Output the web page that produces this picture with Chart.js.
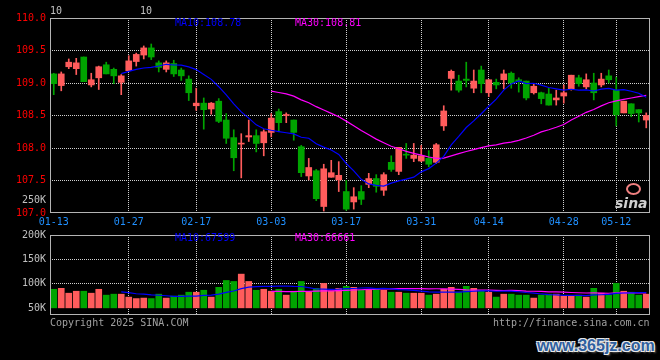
<!DOCTYPE html>
<html>
<head>
<meta charset="utf-8">
<script src="https://cdn.jsdelivr.net/npm/chart.js@4.4.1/dist/chart.umd.min.js"></script>
<style>
  html, body { margin: 0; padding: 0; background: #000; }
  #wrap { position: relative; width: 660px; height: 360px; overflow: hidden; background: #000;
          font-family: 'DejaVu Sans Mono', 'Liberation Mono', monospace; font-size: 10px; line-height: 10px; }
  #wrap canvas { position: absolute; left: 0; }
  .t { position: absolute; white-space: pre; }
</style>
</head>
<body>
<div id="wrap">
  <canvas id="kline" width="660" height="232" style="top:0"></canvas>
  <canvas id="vol" width="660" height="100" style="top:225px"></canvas>

  <div class="t" style="left:50px;top:6px;color:#c0c0c0">10</div>
  <div class="t" style="left:140px;top:6px;color:#c0c0c0">10</div>
  <div class="t" style="left:175px;top:18px;color:#0000ff">MA10:108.78</div>
  <div class="t" style="left:295px;top:18px;color:#ff00ff">MA30:108.81</div>
  <div class="t" style="left:22px;top:195px;color:#c0c0c0">250K</div>
  <div class="t" style="left:175px;top:233px;color:#0000ff">MA10:67599</div>
  <div class="t" style="left:295px;top:233px;color:#ff00ff">MA30:66661</div>
  <div class="t" style="left:50px;top:318px;color:#a0a0a0">Copyright 2025 SINA.COM</div>
  <div class="t" style="left:493px;top:318px;color:#a0a0a0">http://finance.sina.com.cn</div>

  <div style="position:absolute;left:626px;top:183px;width:11px;height:8px;border:2px solid #f08080;border-radius:50%"></div>
  <div class="t" style="left:615px;top:196px;font:italic bold 14px 'DejaVu Sans',sans-serif;line-height:14px;color:#d0d0d0">sina</div>
  <div class="t" style="left:537px;top:337px;font:bold 16px 'Liberation Sans',Arial,sans-serif;line-height:18px;color:#2f5f9f;
       text-shadow:1px 1px 0 #e8e8e8,-1px -1px 0 #e8e8e8,1px -1px 0 #e8e8e8,-1px 1px 0 #e8e8e8,2px 2px 2px #555">www.365jz.com</div>
</div>

<script>
// trading days shown on the chart
const dates = [
  '01-13','01-14','01-15','01-16','01-17','01-20','01-21','01-22','01-23','01-24',
  '01-27','02-05','02-06','02-07','02-10','02-11','02-12','02-13','02-14','02-17',
  '02-18','02-19','02-20','02-21','02-24','02-25','02-26','02-27','02-28','03-03',
  '03-04','03-05','03-06','03-07','03-10','03-11','03-12','03-13','03-14','03-17',
  '03-18','03-19','03-20','03-21','03-24','03-25','03-26','03-27','03-28','03-31',
  '04-01','04-02','04-03','04-07','04-08','04-09','04-10','04-11','04-14','04-15',
  '04-16','04-17','04-18','04-21','04-22','04-23','04-24','04-25','04-28','04-29',
  '04-30','05-06','05-07','05-08','05-09','05-12','05-13','05-14','05-15','05-16'
];
const shownDates = ['01-13','01-27','02-17','03-03','03-17','03-31','04-14','04-28','05-12'];

const open = [
  109.14,108.96,109.25,109.22,109.40,108.97,109.08,109.28,109.21,109.01,
  109.19,109.33,109.43,109.54,109.31,109.21,109.30,109.20,109.06,108.65,
  108.69,108.60,108.72,108.43,108.16,108.06,108.17,108.19,108.08,108.24,
  108.56,108.50,108.43,108.02,107.57,107.65,107.10,107.55,107.51,107.33,
  107.17,107.33,107.44,107.53,107.35,107.78,107.64,107.90,107.84,107.80,
  107.84,107.78,108.34,109.07,109.03,109.06,108.92,109.20,108.85,109.01,
  109.05,109.15,109.05,109.03,108.85,108.85,108.83,108.74,108.80,108.91,
  109.08,108.94,109.00,108.97,109.11,108.89,108.54,108.68,108.59,108.43
];
const high = [
  109.15,109.17,109.37,109.38,109.40,109.15,109.26,109.32,109.23,109.13,
  109.42,109.46,109.57,109.60,109.34,109.34,109.35,109.23,109.11,108.92,
  108.77,108.70,108.76,108.53,108.28,108.22,108.43,108.28,108.28,108.53,
  108.60,108.54,108.43,108.04,107.84,107.67,107.75,107.81,107.79,107.50,
  107.39,107.42,107.61,107.59,107.62,107.88,108.01,108.07,108.07,108.04,
  107.96,108.07,108.65,109.20,109.12,109.32,109.20,109.26,109.05,109.06,
  109.20,109.17,109.08,109.03,108.99,108.86,108.92,108.89,108.97,109.12,
  109.12,109.14,109.15,109.15,109.20,109.09,108.72,108.68,108.59,108.54
];
const low = [
  108.82,108.88,109.22,109.13,109.02,108.94,108.90,109.14,108.99,108.82,
  109.19,109.26,109.37,109.36,109.17,109.17,109.10,109.04,108.73,108.58,
  108.29,108.52,108.39,108.07,107.65,107.54,108.10,107.94,107.88,108.17,
  108.25,108.39,108.12,107.56,107.51,107.19,107.03,107.55,107.33,107.04,
  107.06,107.13,107.39,107.32,107.27,107.64,107.59,107.84,107.79,107.79,
  107.71,107.76,108.27,108.89,108.86,108.94,108.85,108.85,108.79,108.91,
  108.91,108.92,108.86,108.74,108.83,108.68,108.66,108.66,108.69,108.89,
  108.95,108.91,108.74,108.94,109.00,108.34,108.54,108.48,108.40,108.31
];
const close = [
  108.99,109.14,109.32,109.31,109.02,109.05,109.25,109.14,109.11,109.11,
  109.34,109.44,109.54,109.40,109.24,109.31,109.14,109.11,108.85,108.69,
  108.59,108.69,108.41,108.15,107.85,108.07,108.19,108.07,108.25,108.46,
  108.39,108.51,108.24,107.62,107.70,107.22,107.68,107.62,107.58,107.06,
  107.25,107.21,107.53,107.41,107.59,107.67,108.01,107.89,107.89,107.88,
  107.75,108.05,108.57,109.18,108.89,109.04,109.03,108.99,109.05,108.97,
  109.14,109.00,109.02,108.77,108.95,108.76,108.66,108.77,108.85,109.12,
  108.99,109.05,108.85,109.06,109.05,108.51,108.72,108.53,108.54,108.50
];
const volume = [
  89000,91000,81000,85000,85000,81000,89000,77000,79000,79000,
  73000,70000,71000,70000,79000,71000,75000,77000,83000,83000,
  87000,73000,93000,107000,105000,120000,105000,87000,89000,85000,
  89000,77000,85000,105000,83000,91000,101000,85000,91000,95000,
  93000,87000,87000,91000,87000,83000,83000,81000,81000,81000,
  77000,79000,89000,93000,83000,95000,91000,87000,83000,73000,
  79000,79000,77000,77000,71000,77000,79000,79000,75000,75000,
  77000,73000,91000,81000,77000,101000,85000,83000,77000,79000
];

const priceMin = 107, priceMax = 110, priceStep = 0.5;
const volTicks = [50000, 100000, 150000, 200000];
const volAxisMin = 36400;

const upColor = '#ff5c5c';
const downColor = '#00a400';
const gridColor = '#d0d0d0';
const fontFamily = "'DejaVu Sans Mono', 'Liberation Mono', monospace";

// moving averages, taken from the closes / volumes like the original chart does
function movingAvg(arr, n) {
  return arr.map((v, i) => {
    if (i < n - 1) return null;
    let s = 0;
    for (let k = i - n + 1; k <= i; k++) s += arr[k];
    return s / n;
  });
}

const candleColors = close.map((c, i) => c >= open[i] ? upColor : downColor);
const shownIdx = shownDates.map(d => dates.indexOf(d));

// gray box round the plot area
const framePlugin = {
  id: 'frame',
  afterDraw(chart) {
    const a = chart.chartArea;
    const ctx = chart.ctx;
    ctx.save();
    ctx.strokeStyle = '#b4b4b4';
    ctx.lineWidth = 1;
    ctx.strokeRect(Math.round(a.left) + 0.5, Math.round(a.top) + 0.5,
                   Math.round(a.right - a.left) - 1, Math.round(a.bottom - a.top) - 1);
    ctx.restore();
  }
};

function xAxis(showLabels, height) {
  return {
    offset: true,
    grid: {
      offset: false,
      drawTicks: false,
      lineWidth: 1,
      color: ctx => ctx.index === 0 ? 'transparent' : gridColor
    },
    border: { display: false, dash: [1, 1] },
    afterBuildTicks: scale => { scale.ticks = shownIdx.map(i => ({ value: i })); },
    ticks: {
      display: showLabels,
      autoSkip: false,
      maxRotation: 0,
      padding: 3,
      color: '#2090ff',
      font: { family: fontFamily, size: 10 },
      callback: function(v) { return this.getLabelForValue(v); }
    },
    afterFit: s => { s.height = height; }
  };
}

const baseOptions = {
  responsive: false,
  animation: false,
  events: [],
  plugins: { legend: { display: false }, tooltip: { enabled: false } }
};

new Chart(document.getElementById('kline'), {
  type: 'bar',
  data: {
    labels: dates,
    datasets: [
      {
        type: 'line', data: movingAvg(close, 10), borderColor: '#0000ff', borderWidth: 1.2,
        pointRadius: 0, fill: false, order: 0
      },
      {
        type: 'line', data: movingAvg(close, 30), borderColor: '#ff00ff', borderWidth: 1.2,
        pointRadius: 0, fill: false, order: 0
      },
      {
        data: open.map((o, i) => [o, close[i]]),
        backgroundColor: candleColors, barThickness: 6, minBarLength: 1,
        grouped: false, order: 1
      },
      {
        data: low.map((l, i) => [l, high[i]]),
        backgroundColor: candleColors, barThickness: 1,
        grouped: false, order: 2
      }
    ]
  },
  options: {
    ...baseOptions,
    layout: { padding: { left: 0, right: 10, top: 18, bottom: 0 } },
    scales: {
      x: xAxis(true, 19),
      y: {
        min: priceMin, max: priceMax,
        ticks: {
          stepSize: priceStep, color: '#ff0000', padding: 4,
          font: { family: fontFamily, size: 10 },
          callback: v => v.toFixed(1)
        },
        grid: {
          drawTicks: false,
          lineWidth: 1,
          color: ctx => (ctx.tick.value === priceMin || ctx.tick.value === priceMax) ? 'transparent' : gridColor
        },
        border: { display: false, dash: [1, 1] },
        afterFit: s => { s.width = 50; }
      }
    }
  },
  plugins: [framePlugin]
});

new Chart(document.getElementById('vol'), {
  type: 'bar',
  data: {
    labels: dates,
    datasets: [
      {
        type: 'line', data: movingAvg(volume, 10), borderColor: '#0000ff', borderWidth: 1.2,
        pointRadius: 0, fill: false, order: 0
      },
      {
        type: 'line', data: movingAvg(volume, 30), borderColor: '#ff00ff', borderWidth: 1.2,
        pointRadius: 0, fill: false, order: 0
      },
      {
        data: volume, base: volTicks[0],
        backgroundColor: candleColors, barThickness: 6, order: 1
      }
    ]
  },
  options: {
    ...baseOptions,
    layout: { padding: { left: 0, right: 10, top: 9, bottom: 7 } },
    scales: {
      x: xAxis(false, 0),
      y: {
        min: volAxisMin, max: volTicks[volTicks.length - 1],
        afterBuildTicks: s => { s.ticks = volTicks.map(v => ({ value: v })); },
        ticks: {
          color: '#c0c0c0', padding: 4,
          font: { family: fontFamily, size: 10 },
          callback: v => (v / 1000) + 'K'
        },
        grid: {
          drawTicks: false,
          lineWidth: 1,
          color: ctx => (ctx.tick.value === 100000 || ctx.tick.value === 150000) ? gridColor : 'transparent'
        },
        border: { display: false, dash: [1, 1] },
        afterFit: s => { s.width = 50; }
      }
    }
  },
  plugins: [framePlugin]
});
</script>
</body>
</html>
